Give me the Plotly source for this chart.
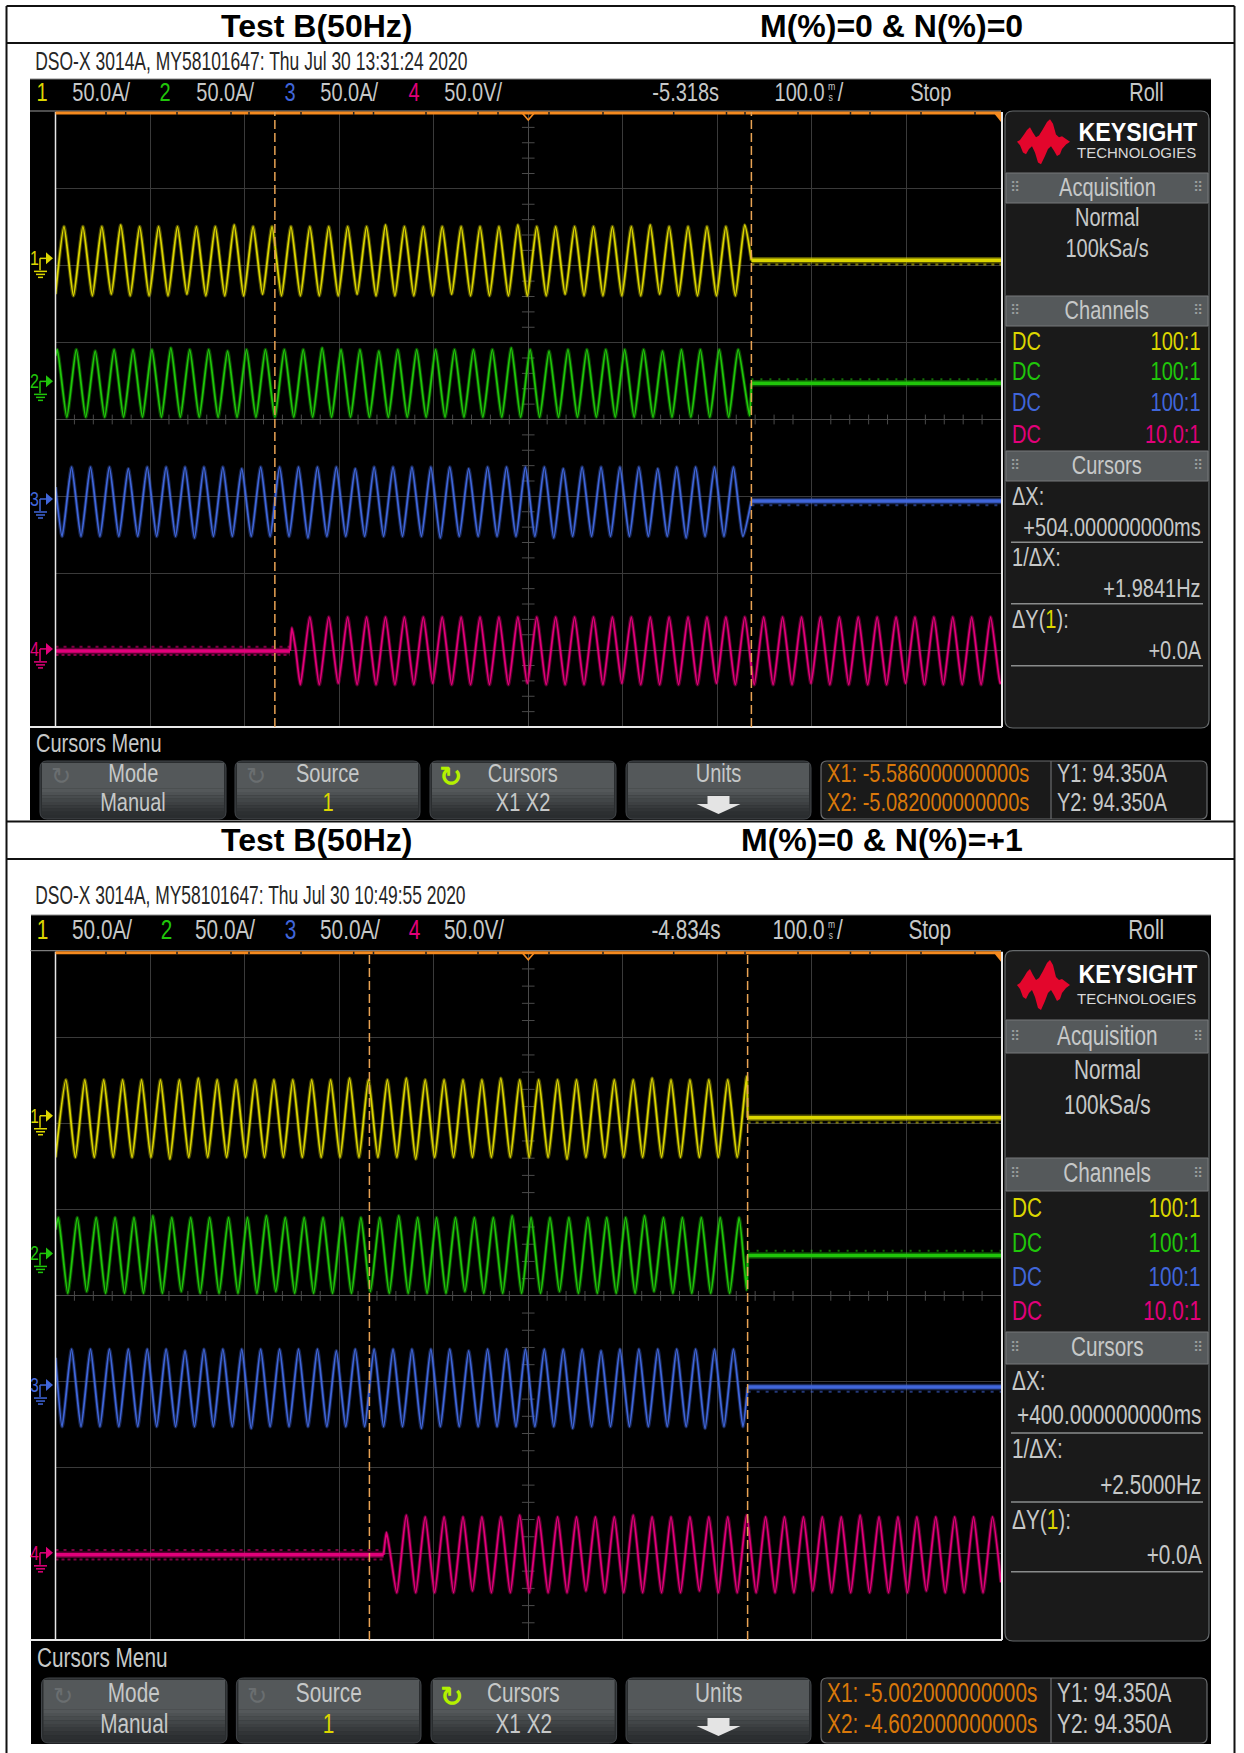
import plotly.graph_objects as go

W, H = 1244, 1753

# ---------- data read from the two captures (time in ms from screen centre, values in A or V) ----------
P1_DELAY = -5.318
P2_DELAY = -4.834
P1_X1, P1_X2 = -5.586, -5.082
P2_X1, P2_X2 = -5.002, -4.602
GROUND_DIV = [2.07, 0.47, -1.06, -3.01]
CH_SCALE = [50.0, 50.0, 50.0, 50.0]

P1_CH1_T = [-500,-491,-481,-471,-461,-451,-441,-431,-421,-411,-401,-391,-381,-371,-361,-351,-341,-331,-321,-311,-301,-291,-281,-271,-261,-251,-241,-231,-221,-211,-201,-191,-181,-171,-161,-151,-141,-131,-121,-111,-101,-91,-81,-71,-61,-51,-41,-31,-21,-11,-1,9,19,29,39,49,59,69,79,89,99,109,119,129,139,149,159,169,179,189,199,209,219,229,236]
P1_CH1_V = [-22,22,-23,22,-23,22,-22,23,-23,22,-23,22,-23,22,-22,22,-23,22,-23,23,-23,22,-22,22,-23,22,-23,22,-23,22,-23,22,-22,22,-23,23,-23,22,-23,22,-23,22,-22,22,-23,22,-23,22,-23,23,-23,22,-23,22,-22,22,-23,22,-23,22,-23,22,-23,23,-22,22,-23,22,-23,22,-23,22,-23,23,0]

P1_CH2_T = [-500,-498,-488,-478,-468,-458,-448,-438,-428,-418,-408,-398,-388,-378,-368,-358,-348,-338,-328,-318,-308,-298,-288,-278,-268,-258,-248,-238,-228,-218,-208,-198,-188,-178,-168,-158,-148,-138,-128,-118,-108,-98,-88,-78,-68,-58,-48,-38,-28,-18,-8,2,12,22,32,42,52,62,72,82,92,102,112,122,132,142,152,162,172,182,192,202,212,222,234,236]
P1_CH2_V = [18,22,-22,22,-22,21,-22,22,-22,22,-22,22,-22,23,-22,22,-22,22,-22,21,-22,22,-22,22,-22,22,-22,22,-22,23,-22,22,-22,22,-22,21,-22,22,-22,22,-22,22,-22,22,-22,22,-22,22,-22,23,-22,22,-22,21,-22,22,-22,22,-22,22,-22,22,-22,22,-22,21,-22,22,-22,22,-22,22,-22,22,-21,0]

P1_CH3_T = [-500,-493,-483,-473,-463,-453,-443,-433,-423,-413,-403,-393,-383,-373,-363,-353,-343,-333,-323,-313,-303,-293,-283,-273,-263,-253,-243,-233,-223,-213,-203,-193,-183,-173,-163,-153,-143,-133,-123,-113,-103,-93,-83,-73,-63,-53,-43,-33,-23,-13,-3,7,17,27,37,47,57,67,77,87,97,107,117,127,137,147,157,167,177,187,197,207,217,227,236]
P1_CH3_V = [9,-23,22,-23,22,-23,22,-23,21,-23,22,-23,22,-23,22,-24,22,-23,22,-23,21,-23,22,-23,22,-23,22,-24,22,-23,22,-23,21,-23,22,-23,22,-23,22,-23,22,-24,22,-23,21,-23,22,-23,22,-23,22,-23,22,-24,21,-23,22,-23,22,-23,22,-23,22,-23,21,-23,22,-24,22,-23,22,-23,22,-23,0]

P1_CH4_T = [-252,-250,-246,-241,-231,-221,-211,-201,-191,-181,-171,-161,-151,-141,-131,-121,-111,-101,-91,-81,-71,-61,-51,-41,-31,-21,-11,-1,9,19,29,39,49,59,69,79,89,99,109,119,129,139,149,159,169,179,189,199,209,219,229,239,249,259,269,279,289,299,309,319,329,339,349,359,369,379,389,399,409,419,429,439,449,459,469,479,489,499,500]
P1_CH4_V = [0,15,1,-22,22,-22,22,-21,22,-22,22,-22,22,-22,22,-22,22,-21,22,-22,22,-22,22,-22,22,-22,22,-21,22,-22,22,-22,22,-22,22,-22,22,-21,22,-22,22,-22,22,-22,22,-22,22,-21,22,-22,22,-22,22,-22,22,-22,22,-21,22,-22,22,-22,22,-22,22,-22,22,-21,22,-22,22,-22,22,-22,22,-22,22,-21,-20]

P2_CH1_T = [-500,-489,-479,-469,-459,-449,-439,-429,-419,-409,-399,-389,-379,-369,-359,-349,-339,-329,-319,-309,-299,-289,-279,-269,-259,-249,-239,-229,-219,-209,-199,-189,-179,-169,-159,-149,-139,-129,-119,-109,-99,-89,-79,-69,-59,-49,-39,-29,-19,-9,1,11,21,31,41,51,61,71,81,91,101,111,121,131,141,151,161,171,181,191,201,211,221,231,232]
P2_CH1_V = [-23,22,-23,22,-23,22,-23,22,-23,22,-23,22,-24,22,-23,23,-23,22,-23,22,-23,22,-23,22,-23,22,-23,22,-23,22,-23,23,-23,22,-23,22,-23,23,-24,22,-23,22,-23,22,-23,22,-23,23,-23,22,-23,22,-23,22,-24,22,-23,22,-23,22,-23,22,-23,23,-23,22,-23,22,-23,22,-23,22,-23,24,0]

P2_CH2_T = [-500,-497,-487,-477,-467,-457,-447,-437,-427,-417,-407,-397,-387,-377,-367,-357,-347,-337,-327,-317,-307,-297,-287,-277,-267,-257,-247,-237,-227,-217,-207,-197,-187,-177,-167,-157,-147,-137,-127,-117,-107,-97,-87,-77,-67,-57,-47,-37,-27,-17,-7,3,13,23,33,43,53,63,73,83,93,103,113,123,133,143,153,163,173,183,193,203,213,223,231,232]
P2_CH2_V = [15,22,-22,22,-21,22,-22,22,-22,22,-22,23,-22,22,-21,22,-22,22,-22,22,-22,22,-22,23,-21,22,-22,22,-22,22,-22,22,-22,22,-21,22,-22,23,-22,22,-22,22,-22,22,-21,22,-22,22,-22,23,-22,22,-22,22,-21,22,-22,22,-22,22,-22,22,-22,23,-21,22,-22,22,-22,22,-22,22,-22,22,-20,0]

P2_CH3_T = [-500,-493,-483,-473,-463,-453,-443,-433,-423,-413,-403,-393,-383,-373,-363,-353,-343,-333,-323,-313,-303,-293,-283,-273,-263,-253,-243,-233,-223,-213,-203,-193,-183,-173,-163,-153,-143,-133,-123,-113,-103,-93,-83,-73,-63,-53,-43,-33,-23,-13,-3,7,17,27,37,47,57,67,77,87,97,107,117,127,137,147,157,167,177,187,197,207,217,227,232]
P2_CH3_V = [17,-23,22,-23,22,-23,22,-23,22,-23,22,-23,22,-23,21,-23,22,-23,22,-23,22,-24,22,-23,22,-23,22,-23,22,-23,21,-23,22,-23,22,-23,22,-23,22,-24,22,-23,22,-23,21,-23,22,-23,22,-23,22,-23,22,-23,22,-24,22,-23,21,-23,22,-23,22,-23,22,-23,22,-23,22,-24,22,-23,22,-23,0]

P2_CH4_T = [-153,-150,-146,-139,-129,-119,-109,-99,-89,-79,-69,-59,-49,-39,-29,-19,-9,1,11,21,31,41,51,61,71,81,91,101,111,121,131,141,151,161,171,181,191,201,211,221,231,241,251,261,271,281,291,301,311,321,331,341,351,361,371,381,391,401,411,421,431,441,451,461,471,481,491,500]
P2_CH4_V = [0,13,1,-22,23,-22,22,-22,22,-22,22,-21,22,-22,22,-22,23,-22,22,-22,22,-22,22,-21,22,-22,22,-22,23,-22,22,-22,22,-22,22,-21,22,-22,22,-22,23,-22,22,-22,22,-22,22,-21,22,-22,22,-22,23,-22,22,-22,22,-22,22,-21,22,-22,22,-22,22,-22,22,-16]

P1_FLAT = [[236, 500], [236, 500], [236, 500], [-500, -252]]
P2_FLAT = [[232, 500], [232, 500], [232, 500], [-500, -153]]

CH_COLORS = ["#dcd600", "#20c60a", "#4066da", "#e2007a"]
CH_LABELS = ["1", "2", "3", "4"]
VOLTS = ["50.0A/", "50.0A/", "50.0A/", "50.0V/"]
PROBES = ["100:1", "100:1", "100:1", "10.0:1"]
TOP_NOTCHES = [106,125.7,177,231,249,301,353.7,373.5,426,478,498,549,603,673.7,726.5,745,798,850.5,870,921,975]

NARROW = "Liberation Sans, Arial, sans-serif"
SANS = "Liberation Sans, Arial, sans-serif"
GREY = "#c6c8c8"
SQ = 0.8

fig = go.Figure()
shapes = []
notes = []


def pt(x, y):
    return f"{x / W:.5f},{1 - y / H:.5f}"


def poly(points, fill, line=None, width=0, layer="above"):
    d = "M" + " L".join(pt(x, y) for x, y in points) + " Z"
    shapes.append(dict(type="path", xref="paper", yref="paper", path=d, fillcolor=fill, layer=layer,
                       line=dict(color=line or fill, width=width)))


def rect(x0, y0, x1, y1, fill, line=None, width=0, layer="below"):
    shapes.append(dict(type="rect", xref="paper", yref="paper", x0=x0 / W, x1=x1 / W, y0=1 - y1 / H, y1=1 - y0 / H,
                       fillcolor=fill, layer=layer, line=dict(color=line or fill, width=width)))


def seg(x0, y0, x1, y1, color, width=1, layer="below", dash=None):
    shapes.append(dict(type="line", xref="paper", yref="paper", x0=x0 / W, x1=x1 / W, y0=1 - y0 / H, y1=1 - y1 / H,
                       layer=layer, line=dict(color=color, width=width, dash=dash or "solid")))


def rrect(x0, y0, x1, y1, r, fill, line, width=1, layer="below"):
    d = (f"M{pt(x0 + r, y0)} L{pt(x1 - r, y0)} Q{pt(x1, y0)} {pt(x1, y0 + r)} L{pt(x1, y1 - r)} "
         f"Q{pt(x1, y1)} {pt(x1 - r, y1)} L{pt(x0 + r, y1)} Q{pt(x0, y1)} {pt(x0, y1 - r)} "
         f"L{pt(x0, y0 + r)} Q{pt(x0, y0)} {pt(x0 + r, y0)} Z")
    shapes.append(dict(type="path", xref="paper", yref="paper", path=d, fillcolor=fill, layer=layer,
                       line=dict(color=line, width=width)))


def txt(x, y, s, size, color=GREY, anchor="center", family=NARROW, bold=False, squeeze=None):
    if squeeze is None:
        squeeze = SQ if family is NARROW and not bold else 1
    notes.append(dict(xref="paper", yref="paper", x=x / W, y=1 - y / H, xanchor=anchor, yanchor="middle",
                      showarrow=False, text=f"<b>{s}</b>" if bold else s, borderpad=0, name=str(squeeze),
                      font=dict(family=family, size=size, color=color)))


LOGO = [(0,0),(3,-2),(7,-8),(10,-13),(13,-16),(16,-10),(19,-5),(22,-7),(26,-14),(30,-22),(33,-25),(36,-20),(39,-8),(42,-5),(45,-6),(49,-3),(53,0),
        (49,3),(45,8),(43,14),(40,16),(37,10),(34,5),(31,8),(28,16),(24,25),(21,23),(18,12),(15,5),(12,8),(9,14),(6,12),(3,4)]


def button(x0, x1, y0, y1):
    rrect(x0, y0, x1, y1, 7, "#2a2d2f", "#42464a", 1)
    mid = y0 + (y1 - y0) * 0.48
    rect(x0 + 2, y0 + 2, x1 - 2, mid, "#54585a")
    strips = 8
    for i in range(strips):
        a = mid + (y1 - 4 - mid) * i / strips
        b = mid + (y1 - 4 - mid) * (i + 1) / strips
        v = i / (strips - 1)
        c = [int(0x54 + (0x2c - 0x54) * v), int(0x58 + (0x2f - 0x58) * v), int(0x5a + (0x31 - 0x5a) * v)]
        rect(x0 + 2, a, x1 - 2, b, f"rgb({c[0]},{c[1]},{c[2]})")


def screen(s, axis_suffix, delay, x1, x2, chans, flats):
    global SQ
    SQ = s["sq"]
    gl, gr, gt, gb = s["grid"]
    fs = s["fs"]
    rect(s["box"][0], s["box"][1], s["box"][2], s["box"][3], "#000000")
    seg(s["box"][0], s["box"][1], s["box"][2], s["box"][1], "#8a8a8a", 1)
    txt(s["stamp_x"], s["stamp_y"], s["stamp"], s["stamp_fs"], "#262626", "left", squeeze=s["stamp_sq"])
    y = s["row"]
    for i, (xa, xb) in enumerate(s["hdr"]):
        txt(xa, y, CH_LABELS[i], fs, CH_COLORS[i])
        txt(xb, y, VOLTS[i], fs, GREY)
    txt(685.6, y, s["delay_txt"], fs, GREY)
    txt(826, y, "100.0", fs, GREY, "right")
    txt(831, y - 6, "m", 11, GREY)
    txt(831, y + 5, "s", 11, GREY)
    txt(840, y, "/", fs, GREY)
    txt(930, y, "Stop", fs, GREY)
    txt(1146.6, y, "Roll", fs, GREY)
    seg(30, gt - 1, gr, gt - 1, "#9a9a9a", 1, "above")
    seg(gl, gt, gl, gb, "#e8e8e8", 1.5, "above")
    seg(30, gb, gr + 1, gb, "#e8e8e8", 2, "above")
    seg(gr + 1, gt, gr + 1, gb, "#e8e8e8", 2, "above")
    seg(gl, gt + 1, gr, gt + 1, "#f58a1f", 3, "above")
    for n in TOP_NOTCHES:
        seg(n, gt, n, gt + 3, "#222222", 1.5, "above")
    cx = (gl + gr) / 2
    poly([(993, gt), (1001, gt), (1001, gt + 10)], "#f58a1f")
    poly([(cx - 6, gt + 1), (cx + 6, gt + 1), (cx, gt + 8)], "rgba(0,0,0,0)", "#f58a1f", 1.6)
    cy = (gt + gb) / 2
    dv = (gb - gt) / 8
    for i, g in enumerate(GROUND_DIV):
        yy = cy - g * dv - 2
        c = CH_COLORS[i]
        txt(34.5, yy, CH_LABELS[i], 20, c)
        poly([(46, yy - 6), (53, yy), (46, yy + 6)], c)
        seg(40, yy, 46, yy, c, 1.5)
        seg(40, yy, 40, yy + 12, c, 1.5)
        seg(34, yy + 13, 47, yy + 13, c, 1.5)
        seg(36, yy + 16, 45, yy + 16, c, 1.5)
        seg(38, yy + 19, 43, yy + 19, c, 1.5)
    rrect(1005, gt - 1, 1209, gb + 1, 8, "#1a1a1a", "#666a6c", 1.2)
    lx, ly = 1017, s["logo_y"]
    poly([(lx + a, ly + b * s["logo_k"]) for a, b in LOGO], "#e3062c")
    txt(1138, s["key_y"], "KEYSIGHT", s["key_fs"], "#ffffff", family=SANS, bold=True, squeeze=0.93)
    txt(1136, s["tech_y"], "TECHNOLOGIES", 15, "#d8d8d8", family=SANS, squeeze=1)
    for name, (a, b, t) in s["bars"].items():
        rect(1006, a, 1208, b, "#55595b", "#77797b", 1)
        txt(1107, t, name, fs, GREY)
        txt(1015, t, "⠿", 14, "#9a9d9e", family="DejaVu Sans")
        txt(1198, t, "⠿", 14, "#9a9d9e", family="DejaVu Sans")
    txt(1107, s["acq"][0], "Normal", fs, GREY)
    txt(1107, s["acq"][1], "100kSa/s", fs, GREY)
    for i, yy in enumerate(s["dc"]):
        txt(1011, yy, "DC", fs, CH_COLORS[i], "left")
        txt(1202, yy, PROBES[i], fs, CH_COLORS[i], "right")
    c = s["cur"]
    txt(1011, c[0], "ΔX:", fs, GREY, "left")
    txt(1202, c[1], s["dx"], fs, GREY, "right")
    seg(1011, c[2], 1203, c[2], "#8a8c8c", 1.6, "above")
    txt(1011, c[3], "1/ΔX:", fs, GREY, "left")
    txt(1202, c[4], s["inv"], fs, GREY, "right")
    seg(1011, c[5], 1203, c[5], "#8a8c8c", 1.6, "above")
    txt(1011, c[6], f"ΔY(<span style='color:{CH_COLORS[0]}'>1</span>):", fs, GREY, "left")
    txt(1202, c[7], "+0.0A", fs, GREY, "right")
    seg(1011, c[8], 1203, c[8], "#8a8c8c", 1.6, "above")
    txt(s["menu_x"], s["menu_y"], "Cursors Menu", fs, GREY, "left")
    by0, by1 = s["btn_y"]
    t1, t2 = s["btn_t"]
    bx = s["btn_x"]
    for a, b in bx:
        button(a, b, by0, by1)
    txt((bx[0][0] + bx[0][1]) / 2, t1, "Mode", fs, GREY)
    txt((bx[0][0] + bx[0][1]) / 2, t2, "Manual", fs, GREY)
    txt((bx[1][0] + bx[1][1]) / 2, t1, "Source", fs, GREY)
    txt((bx[1][0] + bx[1][1]) / 2, t2, "1", fs, CH_COLORS[0])
    txt((bx[2][0] + bx[2][1]) / 2, t1, "Cursors", fs, GREY)
    txt((bx[2][0] + bx[2][1]) / 2, t2, "X1 X2", fs, GREY)
    txt((bx[3][0] + bx[3][1]) / 2, t1, "Units", fs, GREY)
    txt(bx[0][0] + 21, t1 + 3, "↻", 24, "#6a6e70", family="DejaVu Sans")
    txt(bx[1][0] + 21, t1 + 3, "↻", 24, "#6a6e70", family="DejaVu Sans")
    txt(bx[2][0] + 20, t1 + 3, "↻", 28, "#b4f000", family="DejaVu Sans", bold=True)
    am = (bx[3][0] + bx[3][1]) / 2
    poly([(am - 11, t2 - 6), (am + 11, t2 - 6), (am + 11, t2 + 2), (am + 22, t2 + 2), (am, t2 + 12), (am - 22, t2 + 2), (am - 11, t2 + 2)], "#e4e4e4")
    rrect(821, by0, 1207, by1, 6, "#1a1a1a", "#6a6c6e", 1.2)
    seg(1051, by0, 1051, by1, "#6a6c6e", 1.2)
    txt(826, t1, s["x1_txt"], fs, "#d9780a", "left")
    txt(826, t2, s["x2_txt"], fs, "#d9780a", "left")
    txt(1056, t1, "Y1: 94.350A", fs, GREY, "left")
    txt(1056, t2, "Y2: 94.350A", fs, GREY, "left")
    xa, ya = "x" + axis_suffix, "y" + axis_suffix
    tx = [i * 20 for i in range(-25, 26) if i % 5]
    ty = [i * 0.2 for i in range(-20, 21) if i % 5]
    fig.add_trace(go.Scatter(x=tx, y=[0] * len(tx), xaxis=xa, yaxis=ya, mode="markers", hoverinfo="skip",
                             marker=dict(symbol="line-ns", size=7, line=dict(color="#4a4a4a", width=1))))
    fig.add_trace(go.Scatter(x=[0] * len(ty), y=ty, xaxis=xa, yaxis=ya, mode="markers", hoverinfo="skip",
                             marker=dict(symbol="line-ew", size=9, line=dict(color="#4a4a4a", width=1))))
    for i, (t, v) in enumerate(chans):
        yv = [GROUND_DIV[i] + val / CH_SCALE[i] for val in v]
        fl = flats[i]
        fy = [GROUND_DIV[i], GROUND_DIV[i]]
        # trace noise on the idle stretches: a broken line hugging the thick band
        for off, dash in s["fuzz"][i]:
            fig.add_trace(go.Scatter(x=fl, y=[GROUND_DIV[i] + off] * 2, xaxis=xa, yaxis=ya, mode="lines",
                                     hoverinfo="skip", opacity=0.55,
                                     line=dict(color=CH_COLORS[i], width=2, dash=dash)))
        fig.add_trace(go.Scatter(x=fl, y=fy, xaxis=xa, yaxis=ya, mode="lines", hoverinfo="skip", opacity=0.4,
                                 line=dict(color=CH_COLORS[i], width=6.5)))
        fig.add_trace(go.Scatter(x=fl, y=fy, xaxis=xa, yaxis=ya, mode="lines", hoverinfo="skip",
                                 line=dict(color=CH_COLORS[i], width=3.5)))
        fig.add_trace(go.Scatter(x=t, y=yv, xaxis=xa, yaxis=ya, mode="lines", hoverinfo="skip", opacity=0.35,
                                 line=dict(color=CH_COLORS[i], width=3.6, shape="spline", smoothing=0.55)))
        fig.add_trace(go.Scatter(x=t, y=yv, xaxis=xa, yaxis=ya, mode="lines", hoverinfo="skip",
                                 line=dict(color=CH_COLORS[i], width=1.8, shape="spline", smoothing=0.55)))
    for c_t in (x1, x2):
        xv = (c_t - delay) * 1000
        shapes.append(dict(type="line", xref=xa, yref=ya, x0=xv, x1=xv, y0=-4, y1=4, layer="above",
                           line=dict(color="#e9a354", width=1.5, dash="9px,4px")))
    return gl, gr, gt, gb


FUZZ = [[(-0.055, "3px,5px")], [(0.055, "2px,7px")], [(-0.055, "3px,6px")],
        [(-0.055, "3px,3px"), (0.055, "3px,5px")]]

S1 = dict(grid=(55.5, 1001, 112, 727), box=(30, 79, 1211, 820), fs=25, row=92, sq=0.8, fuzz=FUZZ,
          stamp="DSO-X 3014A, MY58101647: Thu Jul 30 13:31:24 2020", stamp_x=33.5, stamp_y=61, stamp_fs=25, stamp_sq=0.7,
          hdr=[(41.5, 100.8), (165, 225), (290, 348.6), (414, 473)], delay_txt="-5.318s",
          logo_y=141.7, logo_k=0.9, key_y=132, key_fs=25, tech_y=153,
          bars={"Acquisition": (173, 203, 187), "Channels": (296, 326, 310), "Cursors": (451, 481, 465)},
          acq=(217, 248), dc=(341, 371, 402, 434),
          cur=(496, 527, 542.3, 557, 588, 603.7, 619, 650, 665.7),
          dx="+504.000000000ms", inv="+1.9841Hz",
          menu_x=35, menu_y=743, btn_y=(761, 819), btn_t=(773, 802),
          btn_x=[(40, 226), (235, 420), (430, 616), (626, 811)],
          x1_txt="X1: -5.586000000000s", x2_txt="X2: -5.082000000000s")

S2 = dict(grid=(55.5, 1001, 951.7, 1640), box=(31, 915, 1211, 1744), fs=27, row=930, sq=0.77, fuzz=FUZZ,
          stamp="DSO-X 3014A, MY58101647: Thu Jul 30 10:49:55 2020", stamp_x=34, stamp_y=895, stamp_fs=26, stamp_sq=0.67,
          hdr=[(42.7, 102), (166, 225.7), (290.5, 350), (414, 474)], delay_txt="-4.834s",
          logo_y=985, logo_k=1.0, key_y=974, key_fs=25, tech_y=998,
          bars={"Acquisition": (1020, 1053, 1036), "Channels": (1158, 1191, 1173), "Cursors": (1332, 1364, 1347)},
          acq=(1070, 1105), dc=(1208, 1243, 1277, 1311),
          cur=(1381, 1415, 1433, 1449, 1485, 1502, 1520, 1555, 1571.7),
          dx="+400.000000000ms", inv="+2.5000Hz",
          menu_x=36, menu_y=1658, btn_y=(1678, 1743), btn_t=(1693, 1724),
          btn_x=[(41.5, 227), (236.4, 421), (431, 616.6), (626, 811)],
          x1_txt="X1: -5.002000000000s", x2_txt="X2: -4.602000000000s")

g1 = screen(S1, "", P1_DELAY, P1_X1, P1_X2,
            [(P1_CH1_T, P1_CH1_V), (P1_CH2_T, P1_CH2_V), (P1_CH3_T, P1_CH3_V), (P1_CH4_T, P1_CH4_V)], P1_FLAT)
g2 = screen(S2, "2", P2_DELAY, P2_X1, P2_X2,
            [(P2_CH1_T, P2_CH1_V), (P2_CH2_T, P2_CH2_V), (P2_CH3_T, P2_CH3_V), (P2_CH4_T, P2_CH4_V)], P2_FLAT)

for x0, y0, x1, y1 in [(6.5, 6, 1234.5, 6), (6.5, 43, 1234.5, 43), (6.5, 821.5, 1234.5, 821.5), (6.5, 859, 1234.5, 859),
                       (6.5, 6, 6.5, 1753), (1234.5, 6, 1234.5, 1753)]:
    seg(x0, y0, x1, y1, "#111111", 2, "above")
for yc in (26, 840):
    txt(316, yc, "Test B(50Hz)", 32, "#000000", family=SANS, bold=True, squeeze=1)
txt(891, 26, "M(%)=0 &amp; N(%)=0", 32, "#000000", family=SANS, bold=True, squeeze=1)
txt(882, 840, "M(%)=0 &amp; N(%)=+1", 32, "#000000", family=SANS, bold=True, squeeze=1)


def axis(dom, rng, dt, anchor):
    return dict(domain=dom, range=rng, dtick=dt, tick0=0, showgrid=True, gridcolor="#3a3a3a", gridwidth=1,
                zeroline=True, zerolinecolor="#4a4a4a", zerolinewidth=1, showticklabels=False, ticks="",
                fixedrange=True, anchor=anchor, showline=False)


fig.update_layout(
    width=W, height=H, margin=dict(l=0, r=0, t=0, b=0), paper_bgcolor="#ffffff", plot_bgcolor="#000000",
    showlegend=False, shapes=shapes, annotations=notes,
    xaxis=axis([g1[0] / W, g1[1] / W], [-500, 500], 100, "y"),
    yaxis=axis([1 - g1[3] / H, 1 - g1[2] / H], [-4, 4], 1, "x"),
    xaxis2=axis([g2[0] / W, g2[1] / W], [-500, 500], 100, "y2"),
    yaxis2=axis([1 - g2[3] / H, 1 - g2[2] / H], [-4, 4], 1, "x2"),
)

# the scope's own condensed typeface is not installed: squeeze each real text element horizontally
POST = """
document.body.style.margin='0';document.documentElement.style.overflow='hidden';
(function(){
  var gd=document.getElementById('{plot_id}');
  function squeeze(){
    gd.querySelectorAll('g.annotation').forEach(function(g){
      var a=gd.layout.annotations[+g.getAttribute('data-index')];
      var k=parseFloat(a.name||'1'); if(!(k<1)) return;
      var t=g.querySelector('text'); if(!t) return;
      var b=t.getBBox();
      var cx=a.xanchor==='left'?b.x:(a.xanchor==='right'?b.x+b.width:b.x+b.width/2);
      t.setAttribute('transform','translate('+cx+',0) scale('+k+',1) translate('+(-cx)+',0)');
    });
  }
  squeeze(); setTimeout(squeeze,50); setTimeout(squeeze,300);
})();
"""
fig.write_html("out.html", config=dict(displayModeBar=False, responsive=False), post_script=POST)
